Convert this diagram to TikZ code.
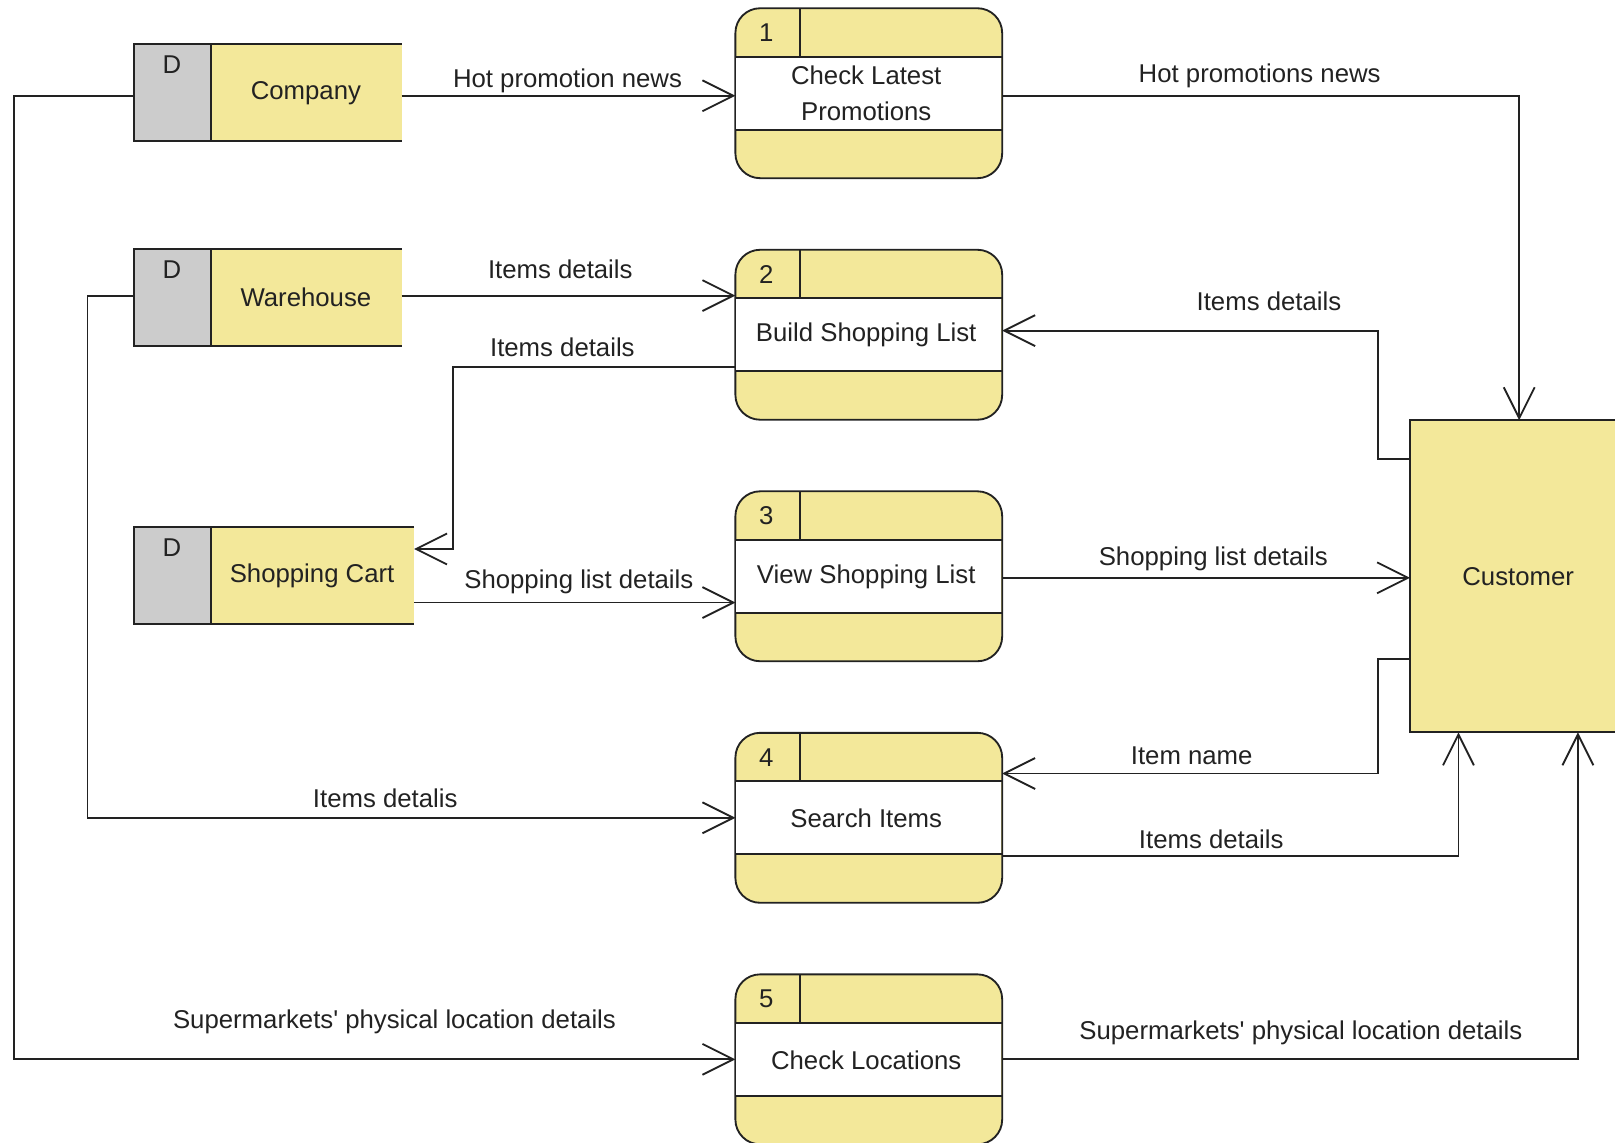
\documentclass[tikz,border=0pt]{standalone}
\usepackage{fontspec}
\setmainfont{Liberation Sans}[Ligatures=TeXOff]
\usetikzlibrary{arrows.meta,calc}
\definecolor{dfdyellow}{RGB}{243,232,154}
\definecolor{dfdgray}{RGB}{204,204,204}
\definecolor{dfdline}{RGB}{34,34,34}
\definecolor{dfdtext}{RGB}{34,34,34}

\newcommand{\dfdproc}[4]{%
  \node[procbox] (#1) at (#2) {};
  \fill[white] ($(#1.north west)+(0.9,47)$) rectangle ($(#1.north east)+(-0.9,118)$);
  \draw[outline] ($(#1.north west)+(0,47)$) -- ($(#1.north east)+(0,47)$);
  \draw[outline] ($(#1.north west)+(0,118)$) -- ($(#1.north east)+(0,118)$);
  \draw[outline] ($(#1.north west)+(63,0)$) -- ($(#1.north west)+(63,47)$);
  \node (#1num) at ($(#1.north west)+(30,24)$) {#3};
  \node[align=center] (#1txt) at ($(#1.north west)+(127,83)$) {#4};
}
\newcommand{\dfdstore}[4]{%
  \node[minimum width=#3pt, minimum height=94pt, outer sep=0pt] (#1) at (#2) {};
  \fill[dfdgray] (#1.north west) rectangle ($(#1.south west)+(75,0)$);
  \fill[dfdyellow] ($(#1.north west)+(75,0)$) rectangle (#1.south east);
  \draw[outline] (#1.north east) -- (#1.north west) -- (#1.south west) -- (#1.south east);
  \draw[outline] ($(#1.north west)+(75,0)$) -- ($(#1.south west)+(75,0)$);
  \node[anchor=base] (#1D) at ($(#1.north west)+(37,28)$) {D};
  \node (#1lbl) at ($(#1.center)+(37,0)$) {#4};
}

\begin{document}
\begin{tikzpicture}[x=1pt,y=-1pt,
  every node/.style={font=\fontsize{25}{35}\selectfont, text=dfdtext, inner sep=0pt},
  outline/.style={draw=dfdline, line width=1.8pt},
  flow/.style={draw=dfdline, line width=1.8pt, -{Straight Barb[length=30pt,width=30pt,line width=1.8pt]}},
  lbl/.style={anchor=base},
  procbox/.style={draw=dfdline, fill=dfdyellow, line width=1.8pt, rounded corners=24pt,
    minimum width=259pt, minimum height=165pt, outer sep=0pt},
]
\useasboundingbox (0,0) rectangle (1568,1109);

% external entity
\node[draw=dfdline, fill=dfdyellow, line width=1.8pt, minimum width=240pt, minimum height=303pt,
  anchor=north west, outer sep=0pt] (cust) at (1369,408) {};
\node (custlbl) at (1474,559.5) {Customer};

% data stores
\dfdstore{cmp}{260,90}{260}{Company}
\dfdstore{whs}{260,289}{260}{Warehouse}
\dfdstore{cart}{266,559}{272}{Shopping Cart}

% processes
\dfdproc{p1}{843.5,90.5}{1}{Check Latest\\Promotions}
\dfdproc{p2}{843.5,325}{2}{Build Shopping List}
\dfdproc{p3}{843.5,559.5}{3}{View Shopping List}
\dfdproc{p4}{843.5,794}{4}{Search Items}
\dfdproc{p5}{843.5,1028.5}{5}{Check Locations}

% flows
\coordinate (f1s) at ($(cmp.east)+(0,3)$);
\draw[flow] (f1s) -- (f1s -| p1.west);
\node[lbl] (l1) at (551,85) {Hot promotion news};

\coordinate (f2s) at ($(p1.east)+(0,2.5)$);
\coordinate (f2e) at ($(cust.north west)+(106,0)$);
\draw[flow] (f2s) -| (f2e);
\node[lbl] (l2) at (1223,80) {Hot promotions news};

\coordinate (f3s) at ($(whs.east)+(0,-2)$);
\draw[flow] (f3s) -- (f3s -| p2.west);
\node[lbl] (l3) at (544,270) {Items details};

\coordinate (f4s) at ($(p2.west)+(0,31)$);
\coordinate (f4e) at ($(cart.north east)+(0,21)$);
\draw[flow] (f4s) -| ($(f4e)+(38,0)$) -- (f4e);
\node[lbl] (l4) at (546,346) {Items details};

\coordinate (f5s) at ($(cust.north west)+(0,38)$);
\coordinate (f5e) at ($(p2.east)+(0,-4)$);
\draw[flow] (f5s) -- ++(-31,0) |- (f5e);
\node[lbl] (l5) at (1232,301) {Items details};

\coordinate (f6s) at ($(cart.east)+(0,26)$);
\draw[flow] (f6s) -- (f6s -| p3.west);
\node[lbl] (l6) at (562,571) {Shopping list details};

\coordinate (f7s) at ($(p3.east)+(0,1.5)$);
\draw[flow] (f7s) -- (f7s -| cust.west);
\node[lbl] (l7) at (1178,549) {Shopping list details};

\coordinate (f8s) at ($(cust.north west)+(0,232)$);
\coordinate (f8e) at ($(p4.east)+(0,-43)$);
\draw[flow] (f8s) -- ++(-31,0) |- (f8e);
\node[lbl] (l8) at (1157,742) {Item name};

\coordinate (f9s) at ($(whs.west)+(0,-2)$);
\draw[flow] (f9s) -- ++(-45,0) |- (p4.west);
\node[lbl] (l9) at (374,784) {Items detalis};

\coordinate (f10s) at ($(p4.east)+(0,37)$);
\coordinate (f10e) at ($(cust.south west)+(47,0)$);
\draw[flow] (f10s) -| (f10e);
\node[lbl] (l10) at (1176,824) {Items details};

\coordinate (f11s) at ($(cmp.west)+(0,3)$);
\draw[flow] (f11s) -- ++(-116,0) |- (p5.west);
\node[lbl] (l11) at (383,999) {Supermarkets' physical location details};

\coordinate (f12e) at ($(cust.south west)+(163,0)$);
\draw[flow] (p5.east) -| (f12e);
\node[lbl] (l12) at (1263,1009) {Supermarkets' physical location details};
\end{tikzpicture}
\end{document}
